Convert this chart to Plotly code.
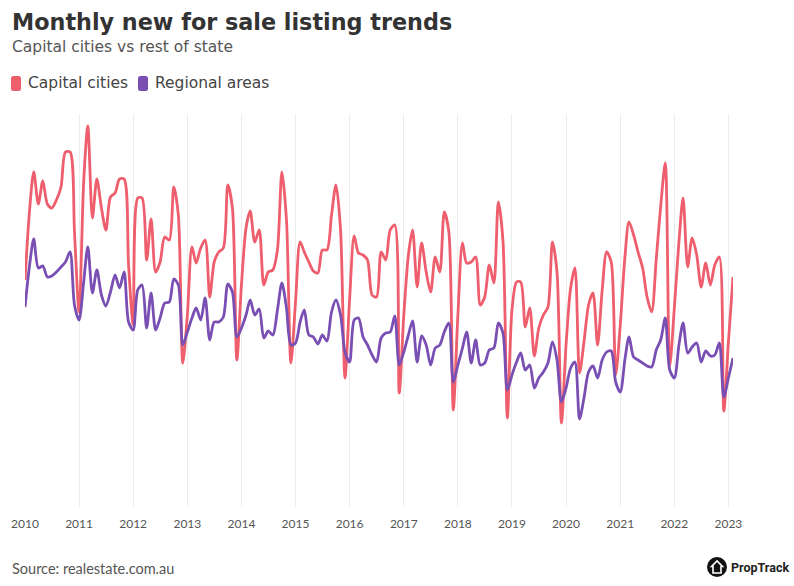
import plotly.graph_objects as go
import pandas as pd

# ---------------- data (monthly new for-sale listings, index units) -------------
start_month = "2010-01-01"

capital_cities = [
    23.2, 30.2, 34.0, 30.8, 33.1, 30.8, 30.4, 31.2, 32.5, 36.0, 36.0, 28.0,   # 2010
    20.0, 33.0, 38.6, 29.4, 33.3, 30.4, 28.2, 31.5, 31.9, 33.3, 33.3, 24.7,   # 2011
    18.7, 31.4, 31.4, 25.2, 29.3, 24.0, 25.0, 27.5, 27.2, 32.5, 29.7, 14.9,   # 2012
    19.7, 26.5, 24.9, 26.4, 27.2, 21.5, 25.0, 26.0, 26.4, 32.7, 30.4, 15.2,   # 2013
    22.7, 28.4, 30.1, 27.0, 28.2, 22.7, 24.0, 24.2, 26.2, 34.0, 29.2, 14.9,   # 2014
    21.0, 27.0, 26.0, 25.0, 24.1, 23.9, 26.2, 26.2, 29.7, 32.7, 28.2, 13.4,   # 2015
    21.2, 27.6, 25.9, 25.7, 25.2, 21.7, 21.5, 26.0, 25.2, 28.2, 28.7, 11.9,   # 2016
    19.7, 25.7, 28.2, 22.5, 26.9, 24.0, 22.0, 25.5, 24.0, 30.0, 28.0, 10.2,   # 2017
    19.7, 26.9, 24.9, 25.0, 25.5, 20.7, 21.5, 24.7, 22.9, 31.0, 27.2, 9.4,    # 2018
    20.2, 23.0, 23.0, 18.5, 20.4, 15.6, 18.4, 19.7, 20.5, 27.0, 24.0, 8.9,    # 2019
    16.7, 22.4, 24.4, 13.9, 17.0, 20.7, 21.9, 16.7, 22.2, 26.0, 25.0, 13.7,   # 2020
    18.7, 25.4, 29.0, 27.7, 26.0, 24.4, 21.5, 20.0, 25.3, 30.6, 34.9, 14.6,   # 2021
    20.4, 27.0, 31.4, 24.5, 27.4, 25.7, 22.5, 24.9, 22.7, 24.7, 25.5, 10.1,   # 2022
    17.0, 23.5,                                                               # 2023
]

regional_areas = [
    20.5, 24.7, 27.3, 24.4, 24.6, 23.5, 23.6, 24.0, 24.5, 25.0, 26.0, 20.7,   # 2010
    19.2, 23.0, 26.5, 21.9, 24.2, 21.7, 20.6, 22.0, 23.7, 22.4, 24.0, 19.0,   # 2011
    18.2, 22.2, 22.7, 18.4, 21.9, 18.2, 19.4, 20.9, 21.0, 23.3, 22.7, 16.7,   # 2012
    18.0, 19.4, 20.4, 19.2, 21.4, 17.2, 19.0, 19.0, 19.5, 22.8, 22.0, 17.5,   # 2013
    18.4, 19.7, 21.2, 19.7, 20.3, 17.4, 18.1, 17.7, 20.2, 22.9, 20.4, 16.7,   # 2014
    16.9, 19.0, 20.2, 17.7, 17.5, 16.8, 17.7, 17.1, 20.0, 21.2, 19.7, 16.0,   # 2015
    15.0, 19.2, 19.4, 17.5, 16.7, 15.7, 15.0, 17.4, 17.9, 18.0, 19.6, 14.7,   # 2016
    16.0, 17.7, 19.1, 15.0, 17.6, 16.7, 14.7, 16.4, 16.7, 18.0, 18.9, 13.0,   # 2017
    14.7, 16.4, 18.0, 14.9, 17.2, 14.7, 14.9, 16.2, 16.4, 18.9, 17.9, 12.2,   # 2018
    13.7, 15.0, 15.9, 14.2, 14.7, 12.4, 13.4, 14.0, 14.9, 17.0, 15.2, 11.0,   # 2019
    12.4, 14.4, 15.0, 9.3, 11.4, 14.0, 14.6, 13.4, 15.2, 16.0, 16.1, 13.0,    # 2020
    12.0, 15.2, 17.5, 15.5, 15.2, 14.9, 14.6, 14.5, 16.2, 17.2, 19.4, 14.2,   # 2021
    13.4, 16.7, 18.9, 15.9, 16.5, 16.9, 15.0, 16.1, 15.6, 15.7, 16.9, 11.5,   # 2022
    13.4, 15.4,                                                               # 2023
]

year_labels = [str(y) for y in range(2010, 2024)]
series_names = ["Capital cities", "Regional areas"]
series_colors = ["#EE5E6C", "#7A4FB3"]

months = pd.date_range(start_month, periods=len(capital_cities), freq="MS")
year_ticks = pd.to_datetime([f"{y}-01-01" for y in year_labels])

# ---------------- geometry helpers (pixel -> paper) ----------------
W, H = 794, 586
PL, PR, PT, PB = 25, 733, 114, 507


def fx(px):
    return (px - PL) / (PR - PL)


def fy(py):
    return (PB - py) / (PB - PT)


def rounded_rect(x0, y0, x1, y1, r):
    X0, X1 = fx(x0), fx(x1)
    Y0, Y1 = fy(y0), fy(y1)
    rx = r / (PR - PL)
    ry = r / (PB - PT)
    return (
        f"M {X0 + rx},{Y0} L {X1 - rx},{Y0} Q {X1},{Y0} {X1},{Y0 - ry} "
        f"L {X1},{Y1 + ry} Q {X1},{Y1} {X1 - rx},{Y1} L {X0 + rx},{Y1} "
        f"Q {X0},{Y1} {X0},{Y1 + ry} L {X0},{Y0 - ry} Q {X0},{Y0} {X0 + rx},{Y0} Z"
    )


FONT = "Lato"
TEXT_FONT = "DejaVu Sans"

fig = go.Figure()
for name, vals, col in zip(series_names, [capital_cities, regional_areas], series_colors):
    fig.add_trace(
        go.Scatter(
            x=months,
            y=vals,
            name=name,
            mode="lines",
            line=dict(color=col, width=2.8, shape="spline", smoothing=0.8),
            showlegend=False,
            hoverinfo="x+y+name",
        )
    )

shapes = []
annotations = []

# Title / subtitle
annotations.append(dict(
    text="<b>Monthly new for sale listing trends</b>", x=fx(10), y=fy(22),
    xref="paper", yref="paper", xanchor="left", yanchor="middle", showarrow=False,
    font=dict(family=TEXT_FONT, size=22.3, color="#333333"),
))
annotations.append(dict(
    text="Capital cities vs rest of state", x=fx(10), y=fy(47),
    xref="paper", yref="paper", xanchor="left", yanchor="middle", showarrow=False,
    font=dict(family=TEXT_FONT, size=15.5, color="#555555"),
))

# Legend (rounded swatches + labels)
legend_items = [(11, 21, 26, series_names[0], series_colors[0]),
                (138, 148, 153, series_names[1], series_colors[1])]
for sx0, sx1, tx, label, col in legend_items:
    shapes.append(dict(type="path", path=rounded_rect(sx0, 76, sx1, 91, 2.5),
                       xref="paper", yref="paper", fillcolor=col, line=dict(width=0)))
    annotations.append(dict(
        text=label, x=fx(tx), y=fy(83.5), xref="paper", yref="paper",
        xanchor="left", yanchor="middle", showarrow=False,
        font=dict(family=TEXT_FONT, size=15.5, color="#444444"),
    ))

# Source
annotations.append(dict(
    text="Source: realestate.com.au", x=fx(10), y=fy(568), xref="paper", yref="paper",
    xanchor="left", yanchor="middle", showarrow=False,
    font=dict(family=FONT, size=14.5, color="#555555"),
))

# PropTrack logo
cx, cy, cr = 717, 567, 10
shapes.append(dict(type="circle", xref="paper", yref="paper",
                   x0=fx(cx - cr), x1=fx(cx + cr), y0=fy(cy + cr), y1=fy(cy - cr),
                   fillcolor="#111111", line=dict(width=0)))
house = [(cx - 5.5, cy - 0.5), (cx, cy - 6), (cx + 5.5, cy - 0.5), (cx + 4, cy - 0.5),
         (cx + 4, cy + 6), (cx - 4, cy + 6), (cx - 4, cy - 0.5)]
hp = "M " + " L ".join(f"{fx(a)},{fy(b)}" for a, b in house) + " Z"
shapes.append(dict(type="path", path=hp, xref="paper", yref="paper",
                   fillcolor="rgba(0,0,0,0)", line=dict(color="white", width=1.6)))
annotations.append(dict(
    text="<b>PropTrack</b>", x=fx(729), y=fy(567), xref="paper", yref="paper",
    xanchor="left", yanchor="middle", showarrow=False,
    font=dict(family="Roboto", size=12.5, color="#222222"),
))

fig.update_layout(
    width=W, height=H,
    margin=dict(l=PL, r=W - PR, t=PT, b=H - PB, pad=0),
    paper_bgcolor="white", plot_bgcolor="white",
    showlegend=False,
    shapes=shapes,
    annotations=annotations,
    xaxis=dict(
        type="date",
        range=[months[0], months[-1]],
        tickvals=year_ticks,
        ticktext=year_labels,
        showgrid=True, gridcolor="#ececec", gridwidth=1,
        zeroline=False, showline=False,
        ticks="outside", ticklen=6, tickcolor="rgba(0,0,0,0)",
        tickfont=dict(family=FONT, size=12, color="#555555"),
        fixedrange=True,
    ),
    yaxis=dict(visible=False, range=[0.5, 39.8], fixedrange=True),
)

fig.write_html(
    "out.html",
    config={"displayModeBar": False},
    post_script="document.body.style.margin='0';document.body.style.padding='0';",
)
